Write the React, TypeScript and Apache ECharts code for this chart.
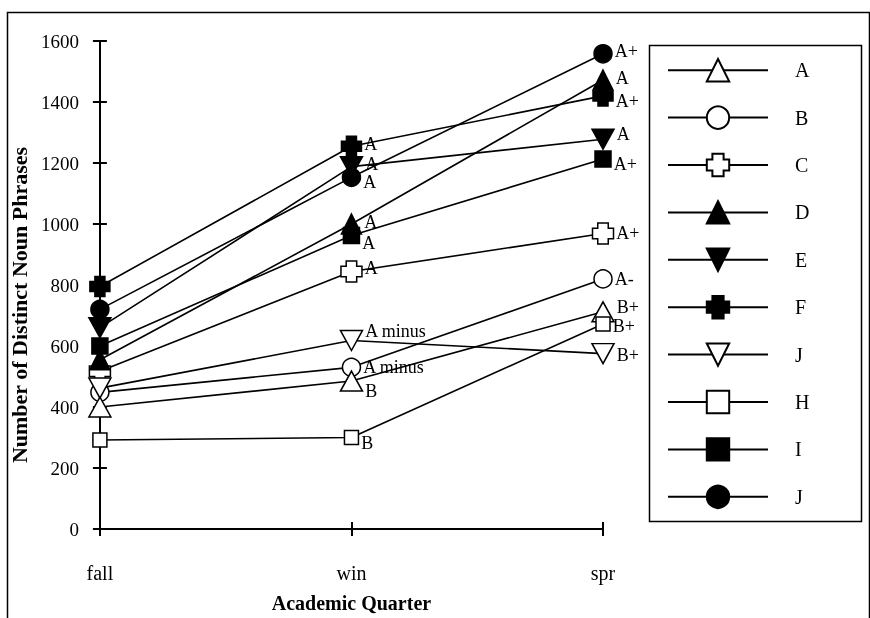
import React, { useEffect, useRef } from "react";
import * as echarts from "echarts";

const categories = ["fall", "win", "spr"];
const yTicks = { min: 0, max: 1600, interval: 200 };

const seriesNames = ["A", "B", "C", "D", "E", "F", "J", "H", "I", "J2"];
const valuesA = [400, 485, 712];
const valuesB = [448, 530, 820];
const valuesC = [517, 844, 969];
const valuesD = [555, 1000, 1472];
const valuesE = [660, 1188, 1278];
const valuesF = [795, 1255, 1420];
const valuesJopen = [462, 618, 575];
const valuesH = [292, 300, 672];
const valuesI = [600, 962, 1213];
const valuesJfilled = [720, 1153, 1558];

const winGrades = ["B", "A minus", "A", "A", "A", "A", "A minus", "B", "A", "A"];
const sprGrades = ["B+", "A-", "A+", "A", "A", "A+", "B+", "B+", "A+", "A+"];

// label nudges (px), styling only
const winNudge = [10, 0, -4, -2, -3, -2, -10, 5, 7, 5];
const sprNudge = [-5, 0, 0, -2, -5, 5, 1, 2, 5, -3];

const FONT = '"Liberation Serif", "Times New Roman", serif';
const CROSS = "path://M2.5,0 H7.5 V2.5 H10 V7.5 H7.5 V10 H2.5 V7.5 H0 V2.5 H2.5 Z";
const DOWN = "path://M0,0 L10,0 L5,10 Z";

const markerStyles = [
  { symbol: "triangle", size: [22, 20], fill: "#fff", z: 3 },
  { symbol: "circle", size: 18, fill: "#fff", z: 2 },
  { symbol: CROSS, size: 21, fill: "#fff", z: 3 },
  { symbol: "triangle", size: [20, 20], fill: "#000", z: 3 },
  { symbol: DOWN, size: [22, 20], fill: "#000", z: 3 },
  { symbol: CROSS, size: 20, fill: "#000", z: 3 },
  { symbol: DOWN, size: [22, 20], fill: "#fff", z: 3 },
  { symbol: "rect", size: 14, fill: "#fff", z: 3 },
  { symbol: "rect", size: 16, fill: "#000", z: 3 },
  { symbol: "circle", size: 18, fill: "#000", z: 3 },
];

const allValues = [valuesA, valuesB, valuesC, valuesD, valuesE, valuesF, valuesJopen, valuesH, valuesI, valuesJfilled];

export default function App() {
  const ref = useRef<HTMLDivElement>(null);
  useEffect(() => {
    if (!ref.current) return;
    const chart = echarts.init(ref.current, null, { renderer: "svg" });
    const series = allValues.map((vals, si) => {
      const m = markerStyles[si];
      return {
        name: seriesNames[si],
        type: "line",
        xAxisIndex: 0,
        yAxisIndex: 0,
        z: m.z,
        symbol: m.symbol,
        symbolSize: m.size,
        showAllSymbol: true,
        color: "#000",
        lineStyle: { color: "#000", width: 1.6 },
        itemStyle: { color: m.fill, borderColor: "#000", borderWidth: 1.5, opacity: 1 },
        data: vals.map((v, i) => ({
          value: v,
          label: {
            show: i > 0,
            position: "right",
            distance: 2,
            formatter: i === 1 ? winGrades[si] : sprGrades[si],
            offset: [0, i === 1 ? winNudge[si] : sprNudge[si]],
            color: "#000",
            fontFamily: FONT,
            fontSize: 18,
            lineHeight: 14,
          },
        })),
        emphasis: { disabled: true },
      };
    });
    chart.setOption({
      animation: false,
      textStyle: { fontFamily: FONT, color: "#000" },
      grid: { left: 98, right: 267, top: 41, bottom: 86, containLabel: false },
      xAxis: [
        {
          type: "category",
          data: categories,
          boundaryGap: false,
          axisLine: { show: true, lineStyle: { color: "#000", width: 2 } },
          axisTick: { show: true, length: 7, lineStyle: { color: "#000", width: 2 } },
          axisLabel: { color: "#000", fontFamily: FONT, fontSize: 20, margin: 34 },
          name: "Academic Quarter",
          nameLocation: "middle",
          nameGap: 64,
          nameTextStyle: { fontFamily: FONT, fontSize: 20, fontWeight: "bold", color: "#000" },
          splitLine: { show: false },
        },
        {
          type: "category",
          data: categories,
          boundaryGap: false,
          position: "bottom",
          axisLine: { show: false },
          axisTick: { show: true, inside: true, length: 7, lineStyle: { color: "#000", width: 2 } },
          axisLabel: { show: false },
          splitLine: { show: false },
        },
      ],
      yAxis: [
        {
          type: "value",
          min: yTicks.min,
          max: yTicks.max,
          interval: yTicks.interval,
          axisLine: { show: true, lineStyle: { color: "#000", width: 2 } },
          axisTick: { show: true, length: 7, lineStyle: { color: "#000", width: 2 } },
          axisLabel: {
            color: "#000",
            fontFamily: FONT,
            fontSize: 19,
            margin: 21,
            formatter: (v: number) => String(v),
          },
          splitLine: { show: false },
          name: "Number of Distinct Noun Phrases",
          nameLocation: "middle",
          nameGap: 60,
          nameTextStyle: {
            fontFamily: FONT,
            fontSize: 22,
            fontWeight: "bold",
            color: "#000",
            padding: [0, 40, 0, 0],
          },
        },
        {
          type: "value",
          min: yTicks.min,
          max: yTicks.max,
          interval: yTicks.interval,
          position: "left",
          axisLine: { show: false },
          axisTick: { show: true, inside: true, length: 7, lineStyle: { color: "#000", width: 2 } },
          axisLabel: { show: false },
          splitLine: { show: false },
        },
      ],
      legend: {
        orient: "vertical",
        left: 667,
        top: 58,
        padding: 0,
        itemWidth: 100,
        itemHeight: 28,
        itemGap: 23,
        selectedMode: false,
        data: seriesNames,
        formatter: (n: string) => (n === "J2" ? "J" : n),
        textStyle: { fontFamily: FONT, fontSize: 20, color: "#000", padding: [0, 0, 0, 22] },
      },
      graphic: [
        {
          type: "rect",
          left: 5,
          top: 10,
          shape: { width: 862, height: 640 },
          style: { fill: "none", stroke: "#000", lineWidth: 1.5 },
          silent: true,
        },
        {
          type: "rect",
          left: 647,
          top: 43,
          shape: { width: 212, height: 476 },
          style: { fill: "none", stroke: "#000", lineWidth: 1.5 },
          silent: true,
        },
      ],
      series,
    });
    return () => chart.dispose();
  }, []);
  return <div ref={ref} style={{ position: "fixed", left: 0, top: 0, width: 870, height: 618 }} />;
}
